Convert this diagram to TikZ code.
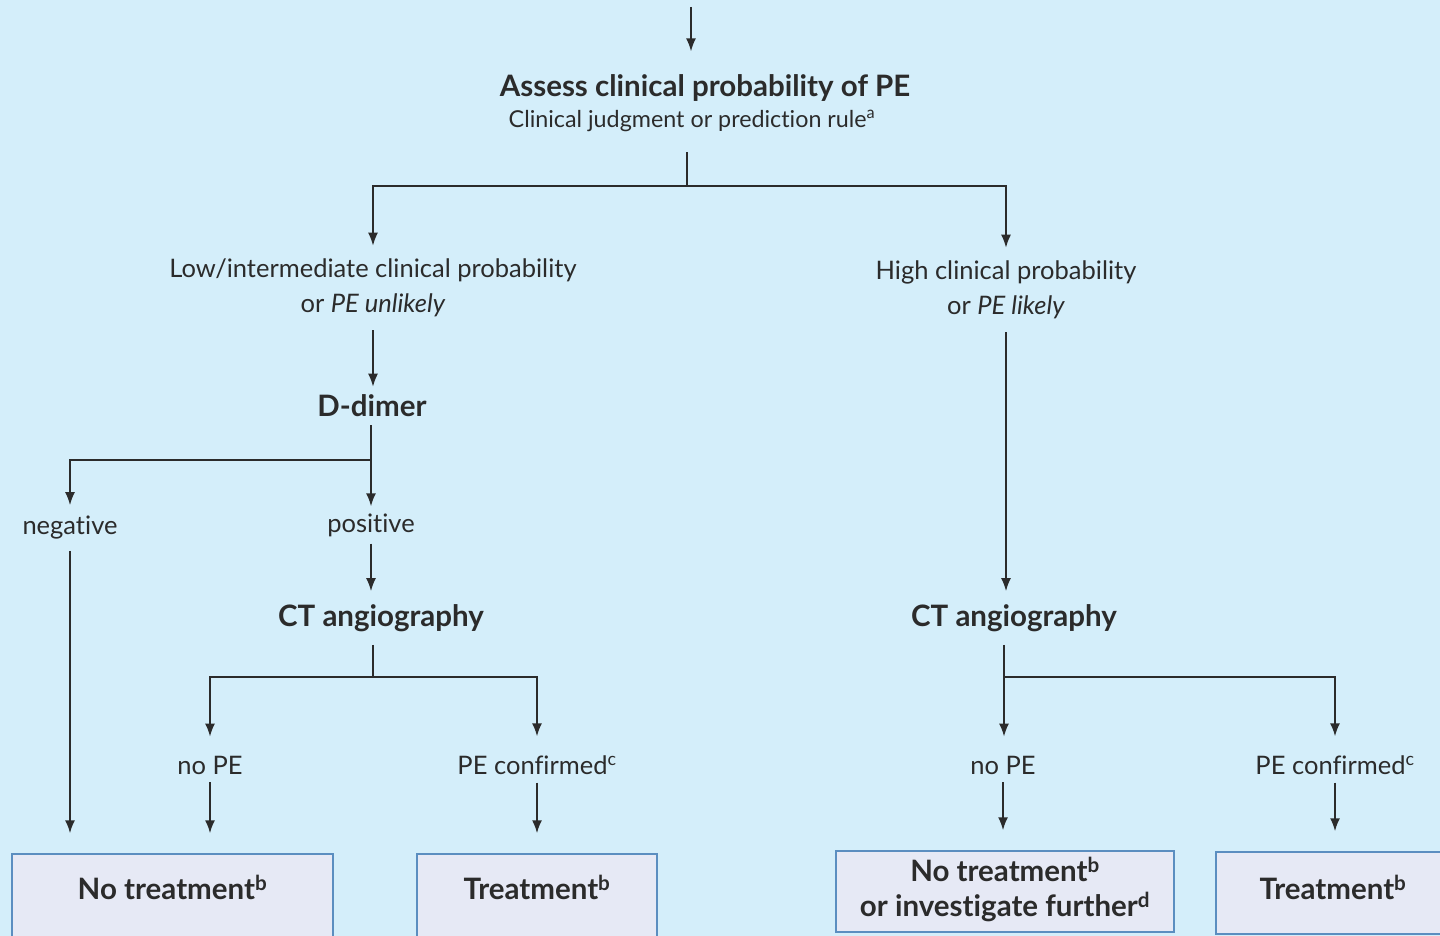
\documentclass[tikz,border=0pt]{standalone}
\usepackage{fontspec}
\setmainfont{Lato}[Ligatures=NoCommon]
\usetikzlibrary{arrows.meta}
\definecolor{bgblue}{HTML}{D4EEFA}
\definecolor{boxfill}{HTML}{E6E9F5}
\definecolor{boxline}{HTML}{5B8EC0}
\definecolor{ink}{HTML}{2B2B2B}
\begin{document}
\begin{tikzpicture}
  [x=1pt,y=-1pt,
   every node/.style={text=ink,align=center,inner xsep=0pt,inner ysep=9pt},
   plain/.style={font=\fontsize{25.5}{35}\selectfont},
   head/.style={font=\bfseries\fontsize{29.5}{35}\selectfont},
   small/.style={font=\fontsize{23.3}{28}\selectfont},
   result/.style={draw=boxline,line width=1.5pt,fill=boxfill,inner sep=0pt,
     font=\bfseries\fontsize{29.5}{35}\selectfont,text height=21pt,text depth=8pt},
   cutbox/.style={text depth=22pt},
   arr/.style={draw=ink,line width=1.7pt,-{Latex[length=13pt,width=10pt]}},
   link/.style={draw=ink,line width=1.7pt}]
  \useasboundingbox (0,0) rectangle (1440,936);
  \fill[bgblue] (0,0) rectangle (1440,936);

  \coordinate (start) at (691,7);
  \coordinate (fork1) at (687,186);
  \coordinate (fork2) at (371,460);
  \coordinate (fork3) at (373,677);
  \coordinate (fork4) at (1004,677);

  \node[head,inner ysep=23pt] (assess) at (705,88) {Assess clinical probability of PE};
  \node[small,inner ysep=20pt] (rule) at (692,121) {Clinical judgment or prediction rule\textsuperscript{a}};
  \node[plain,inner ysep=13pt] (lowint) at (373,288) {Low/intermediate clinical probability\\or \textit{PE unlikely}};
  \node[plain,inner ysep=13pt] (high) at (1006,290) {High clinical probability\\or \textit{PE likely}};
  \node[head,inner ysep=8pt] (ddimer) at (372,406) {D-dimer};
  \node[plain,inner ysep=11pt] (neg) at (70,528) {negative};
  \node[plain,inner ysep=7pt] (pos) at (371,525) {positive};
  \node[head,inner ysep=13pt] (ctl) at (381,618) {CT angiography};
  \node[head,inner ysep=13pt] (ctr) at (1014,618) {CT angiography};
  \node[plain,inner ysep=8pt] (nopel) at (210,765) {no PE};
  \node[plain,inner ysep=8pt] (pecl) at (537,765) {PE confirmed\textsuperscript{c}};
  \node[plain,inner ysep=8pt] (noper) at (1003,765) {no PE};
  \node[plain,inner ysep=8pt] (pecr) at (1335,765) {PE confirmed\textsuperscript{c}};

  \node[result,cutbox,minimum width=321,minimum height=92] (notreatl) at (172.5,900) {No treatment\textsuperscript{b}};
  \node[result,cutbox,minimum width=240,minimum height=92] (treatl) at (537,900) {Treatment\textsuperscript{b}};
  \node[result,text height=58pt,minimum width=338,minimum height=81] (notreatr) at (1005,891.5) {No treatment\textsuperscript{b}\\or investigate further\textsuperscript{d}};
  \node[result,minimum width=234,minimum height=82] (treatr) at (1333,893) {Treatment\textsuperscript{b}};

  \draw[arr] (start) -- (start |- assess.north);
  \draw[link] (rule.south -| fork1) -- (fork1);
  \draw[arr] (fork1) -| (lowint.north);
  \draw[arr] (fork1) -| (high.north);
  \draw[link] (ddimer.south -| fork2) -- (fork2);
  \draw[arr] (fork2) -| (neg.north);
  \draw[arr] (fork2) -- (fork2 |- pos.north);
  \draw[link] (fork3 |- ctl.south) -- (fork3);
  \draw[arr,shorten >=11pt] (fork3) -| (nopel.north);
  \draw[arr,shorten >=11pt] (fork3) -| (pecl.north);
  \draw[link] (fork4 |- ctr.south) -- (fork4);
  \draw[arr,shorten >=11pt] (fork4) -- (fork4 |- noper.north);
  \draw[arr,shorten >=11pt] (fork4) -| (pecr.north);

  \foreach \from/\to in {lowint/ddimer,pos/ctl,high/ctr}
    \draw[arr] (\from.south) -- (\from.south |- \to.north);
  \foreach \from/\to in {neg/notreatl,nopel/notreatl,pecl/treatl,noper/notreatr,pecr/treatr}
    \draw[arr,shorten >=20pt] (\from.south) -- (\from.south |- \to.north);

\end{tikzpicture}
\end{document}
